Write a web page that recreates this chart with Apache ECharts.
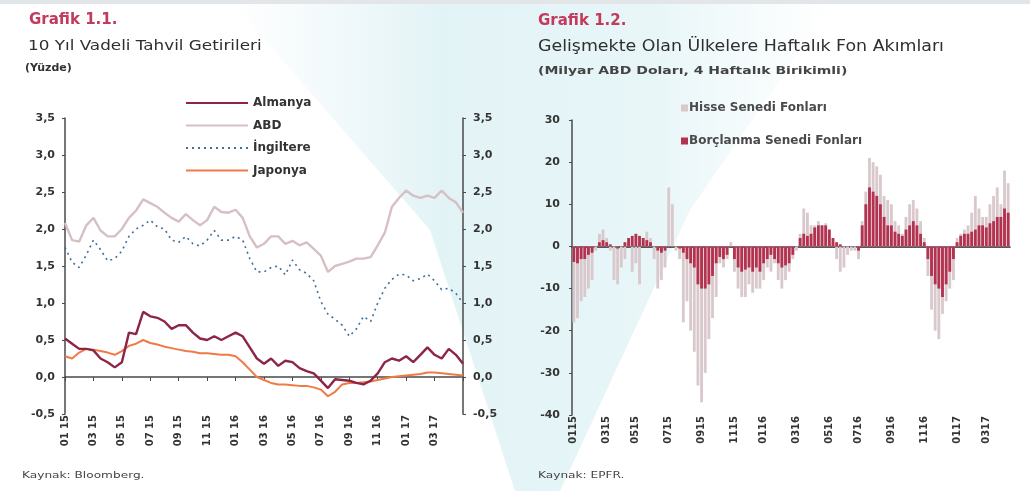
<!DOCTYPE html>
<html>
<head>
<meta charset="utf-8">
<script src="https://cdn.jsdelivr.net/npm/echarts@6/dist/echarts.min.js"></script>
<style>
  html, body { margin: 0; padding: 0; background: #fff; }
  #chart { width: 1030px; height: 491px; }
</style>
</head>
<body>
<div id="chart"></div>
<script>
// Grafik 1.1 - yarım aylık okumalar (Ocak 2015 - Mayıs 2017)
const almanya = [0.52,0.45,0.38,0.38,0.36,0.25,0.2,0.13,0.2,0.6,
  0.58,0.88,0.82,0.8,0.75,0.65,0.7,0.7,0.6,0.52,
  0.5,0.55,0.5,0.55,0.6,0.55,0.4,0.25,0.18,0.25,
  0.15,0.22,0.2,0.12,0.08,0.05,-0.05,-0.15,-0.03,-0.04,
  -0.05,-0.08,-0.1,-0.05,0.05,0.2,0.25,0.22,0.28,0.2,
  0.3,0.4,0.3,0.25,0.38,0.3,0.18];
const abd = [2.08,1.85,1.83,2.05,2.15,1.98,1.9,1.9,2.0,2.15,
  2.25,2.4,2.35,2.3,2.22,2.15,2.1,2.2,2.12,2.05,
  2.12,2.3,2.23,2.22,2.26,2.15,1.9,1.75,1.8,1.9,
  1.9,1.8,1.84,1.78,1.82,1.73,1.64,1.42,1.5,1.53,
  1.56,1.6,1.6,1.62,1.78,1.95,2.3,2.42,2.52,2.45,
  2.42,2.45,2.42,2.52,2.42,2.36,2.22];
const ingiltere = [1.75,1.55,1.48,1.65,1.85,1.72,1.57,1.6,1.7,1.9,
  2.0,2.05,2.12,2.03,2.0,1.85,1.82,1.9,1.8,1.77,
  1.85,1.98,1.85,1.85,1.9,1.85,1.6,1.42,1.42,1.48,
  1.5,1.38,1.58,1.45,1.4,1.3,1.02,0.85,0.78,0.7,
  0.55,0.65,0.82,0.75,1.0,1.2,1.32,1.39,1.38,1.3,
  1.33,1.39,1.3,1.18,1.2,1.13,1.0];
const japonya = [0.28,0.25,0.33,0.38,0.37,0.35,0.33,0.3,0.35,0.42,
  0.45,0.5,0.46,0.44,0.41,0.39,0.37,0.35,0.34,0.32,
  0.32,0.31,0.3,0.3,0.28,0.2,0.1,0.0,-0.04,-0.08,
  -0.1,-0.1,-0.11,-0.12,-0.12,-0.14,-0.17,-0.26,-0.2,-0.1,
  -0.08,-0.08,-0.07,-0.06,-0.04,-0.02,0.0,0.01,0.02,0.03,
  0.04,0.06,0.06,0.05,0.04,0.03,0.02];

// Grafik 1.2 - haftalık (milyar ABD doları)
const hisse = [-18,-17,-13,-12,-10,-8,-1,3,4,2,
  -1,-8,-9,-5,-3,1,-6,-4,-9,2,
  3.5,2,-3,-10,-8,-5,14,10,-1,-3,
  -18,-13,-20,-25,-33,-37,-30,-22,-17,-12,
  -4,-5,-3,1,-6,-10,-12,-12,-9,-11,
  -10,-10,-8,-5,-6,-4,-8,-10,-8,-6,
  -3,-1,3,9,8,5,5,6,5,5.5,
  4,1,-3,-6,-5,-2,-1,-1,-3,6,
  13,21,20,19,17,12,11,10,6,5,
  3,7,10,11,9,6,2,-7,-15,-20,
  -22,-16,-13,-10,-8,2,3,4,5,8,
  12,9,7,7,10,12,14,10,18,15];
const borclanma = [-3.7,-4,-3,-3,-2,-1.5,0,1,1.5,1,
  0.5,0,-0.5,0,1,2,2.5,3,2.5,2,
  1.5,1,0,-1,-1.5,-1,0,0,0,-0.5,
  -1.5,-3,-4,-5,-9,-10,-10,-9,-7,-4,
  -2.5,-3,-2,0,-3,-5,-6,-5.5,-5,-6,
  -5,-6,-4,-3,-2,-3,-4,-5,-4.5,-4,
  -2,0,2,3,2.5,3,4.5,5,5,5,
  4,2,1,0.5,0,0,0,0,-1,5,
  10,14,13,12,10,7,5,5,3.5,3,
  2.5,4,5,6,5,3,1,-3,-7,-9,
  -10,-12,-9,-6,-3,1,2.5,3,3,3.5,
  4,5,5,4.5,5.5,6,7,7,9,8];

const pad = n => String(n).padStart(2, '0');

// yarım aylık kategoriler
const halfMonths = [];
for (let i = 0; i < almanya.length; i++) {
  const m = Math.floor(i / 2);
  const y = 2015 + Math.floor(m / 12);
  halfMonths.push(pad(m % 12 + 1) + ' ' + pad(y % 100) + (i % 2 ? ' b' : ''));
}
const leftLabel = i => i % 4 === 0 && i < halfMonths.length - 2;

// haftalık kategoriler (Cuma)
const weeks = [];
const weekLabel = [];
for (let k = 0; k < hisse.length; k++) {
  const d = new Date(Date.UTC(2015, 0, 2 + 7 * k));
  const prev = new Date(Date.UTC(2015, 0, 2 + 7 * (k - 1)));
  const m = d.getUTCMonth();
  weeks.push(pad(m + 1) + pad(d.getUTCFullYear() % 100) + '-' + k);
  weekLabel.push((k === 0 || prev.getUTCMonth() !== m) && m % 2 === 0);
}

const FONT = 'DejaVu Sans';
const axisCol = '#4a4a4a';
const comma = v => v.toFixed(1).replace('.', ',');

const chart = echarts.init(document.getElementById('chart'));

const leftLabelX = {
  type: 'category', gridIndex: 0, data: halfMonths, boundaryGap: false,
  position: 'bottom',
  axisLine: { show: false, onZero: false }, axisTick: { show: false },
  axisLabel: {
    rotate: 90, interval: leftLabel, margin: 1,
    fontFamily: FONT, fontSize: 10, fontWeight: 'bold', color: '#333',
    formatter: v => v.slice(0, 5)
  }
};
const leftZeroX = {
  type: 'category', gridIndex: 0, data: halfMonths, boundaryGap: false,
  position: 'bottom',
  axisLine: { onZero: true, onZeroAxisIndex: 0, lineStyle: { color: axisCol, width: 1.5 } },
  axisTick: { interval: 3, length: 4, lineStyle: { color: axisCol } },
  axisLabel: { show: false }
};
const rightLabelX = {
  type: 'category', gridIndex: 1, data: weeks, position: 'bottom',
  axisLine: { show: false, onZero: false }, axisTick: { show: false },
  axisLabel: {
    rotate: 90, margin: 1, interval: (i) => weekLabel[i],
    fontFamily: FONT, fontSize: 10, fontWeight: 'bold', color: '#333',
    formatter: v => v.slice(0, 4)
  }
};
const rightZeroX = {
  type: 'category', gridIndex: 1, data: weeks, position: 'bottom',
  axisLine: { onZero: true, onZeroAxisIndex: 2, lineStyle: { color: '#222', width: 1.5 } },
  axisTick: { interval: (i) => weekLabel[i], length: 4, lineStyle: { color: axisCol } },
  axisLabel: { show: false }
};

const yLeftBase = {
  type: 'value', gridIndex: 0, min: -0.5, max: 3.5, interval: 0.5,
  splitLine: { show: false },
  axisLine: { show: true, lineStyle: { color: axisCol, width: 1.5 } },
  axisTick: { show: true, length: 3, lineStyle: { color: axisCol } },
  axisLabel: { fontFamily: FONT, fontSize: 11, fontWeight: 'bold', color: '#333', formatter: comma, margin: 10 }
};

const lineSeries = (name, data, color, type, width) => ({
  name, type: 'line', xAxisIndex: 0, yAxisIndex: 0, data,
  symbol: 'none', smooth: false,
  lineStyle: { color, width, type },
  itemStyle: { color }
});

const txt = (x, y, text, font, fill, sx) => ({
  type: 'text', x, y, scaleX: sx || 1, silent: true,
  style: { text, font, fill, textVerticalAlign: 'top' }
});

chart.setOption({
  animation: false,
  backgroundColor: '#ffffff',
  graphic: [
    { type: 'polygon', silent: true, z: -10,
      shape: { points: [[230, 0], [835, 0], [690, 210], [560, 491], [515, 491], [430, 230]] },
      style: { fill: new echarts.graphic.LinearGradient(0, 0, 1, 0, [
        { offset: 0, color: 'rgba(220,240,244,0.0)' },
        { offset: 0.35, color: 'rgba(214,238,242,0.7)' },
        { offset: 0.7, color: 'rgba(222,242,245,0.7)' },
        { offset: 1, color: 'rgba(230,245,247,0.0)' }]) } },
    { type: 'rect', silent: true, z: -9, shape: { x: 0, y: 0, width: 1030, height: 4 }, style: { fill: '#e2e6e8' } },
    txt(29, 13, 'Grafik 1.1.', 'bold 15px "DejaVu Sans"', '#c23a5c'),
    txt(28, 39, '10 Yıl Vadeli Tahvil Getirileri', '14px "DejaVu Sans"', '#2f2f2f', 1.2),
    txt(25, 63, '(Yüzde)', 'bold 10px "DejaVu Sans"', '#333', 1.1),
    txt(538, 14, 'Grafik 1.2.', 'bold 15px "DejaVu Sans"', '#c23a5c'),
    txt(538, 40, 'Gelişmekte Olan Ülkelere Haftalık Fon Akımları', '15px "DejaVu Sans"', '#2f2f2f', 1.16),
    txt(538, 66, '(Milyar ABD Doları, 4 Haftalık Birikimli)', 'bold 10px "DejaVu Sans"', '#444', 1.4),
    txt(22, 471, 'Kaynak: Bloomberg.', '9px "DejaVu Sans"', '#444', 1.35),
    txt(538, 471, 'Kaynak: EPFR.', '9px "DejaVu Sans"', '#444', 1.35)
  ],
  legend: [
    {
      data: ['Almanya', 'ABD', 'İngiltere', 'Japonya'],
      orient: 'vertical', left: 180, top: 92, itemWidth: 62, itemHeight: 12, itemGap: 10.5,
      itemStyle: { opacity: 0 },
      textStyle: { fontFamily: FONT, fontSize: 12, fontWeight: 'bold', color: '#333' }
    },
    {
      data: ['Hisse Senedi Fonları', 'Borçlanma Senedi Fonları'],
      orient: 'vertical', left: 676, top: 97, itemWidth: 7, itemHeight: 7, itemGap: 21,
      icon: 'rect', selectedMode: false,
      textStyle: { fontFamily: FONT, fontSize: 12, fontWeight: 'bold', color: '#4a4a4a', padding: [0, 0, 0, -4] }
    }
  ],
  grid: [
    { left: 65, right: 567, top: 118, bottom: 77 },
    { left: 572, right: 20, top: 120, bottom: 76 }
  ],
  xAxis: [leftLabelX, leftZeroX, rightLabelX, rightZeroX],
  yAxis: [
    Object.assign({}, yLeftBase, { position: 'left' }),
    Object.assign({}, yLeftBase, { position: 'right' }),
    {
      type: 'value', gridIndex: 1, min: -40, max: 30, interval: 10,
      splitLine: { show: false },
      axisLine: { show: true, lineStyle: { color: axisCol, width: 1.5 } },
      axisTick: { show: true, length: 3, lineStyle: { color: axisCol } },
      axisLabel: { fontFamily: FONT, fontSize: 11, fontWeight: 'bold', color: '#333', margin: 12 }
    }
  ],
  series: [
    lineSeries('ABD', abd, '#d6c0c3', 'solid', 2.4),
    lineSeries('İngiltere', ingiltere, '#3f6f9c', [2, 4], 1.6),
    lineSeries('Japonya', japonya, '#f07a45', 'solid', 2),
    lineSeries('Almanya', almanya, '#8c2547', 'solid', 2.4),
    {
      name: 'Hisse Senedi Fonları', type: 'bar', xAxisIndex: 2, yAxisIndex: 2,
      data: hisse, barCategoryGap: '22%', barGap: '-100%',
      itemStyle: { color: '#d9c9cc' }
    },
    {
      name: 'Borçlanma Senedi Fonları', type: 'bar', xAxisIndex: 2, yAxisIndex: 2,
      data: borclanma, barCategoryGap: '22%', barGap: '-100%',
      itemStyle: { color: '#b3324f' }
    }
  ]
});
</script>
</body>
</html>
